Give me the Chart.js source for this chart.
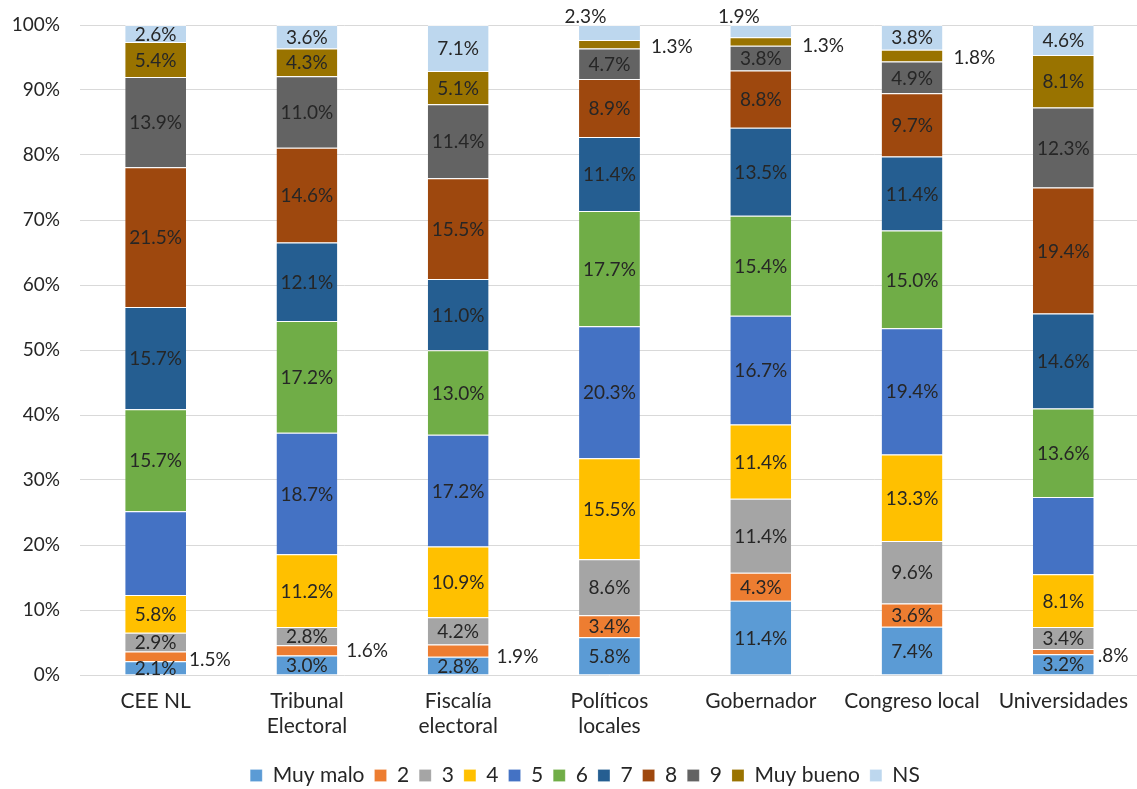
<!DOCTYPE html>
<html><head><meta charset="utf-8">
<script src="https://cdn.jsdelivr.net/npm/chart.js@4.4.1/dist/chart.umd.min.js"></script>
<style>html,body{margin:0;padding:0;overflow:hidden;background:#fff}#wrap{width:1142px;height:789px}</style>
</head><body><div id="wrap"><canvas id="c" width="1142" height="789"></canvas></div>
<script>
// ---- data ----
const categories = [['CEE NL'], ['Tribunal', 'Electoral'], ['Fiscalía', 'electoral'], ['Políticos', 'locales'], ['Gobernador'], ['Congreso local'], ['Universidades']];
const seriesNames = ['Muy malo', '2', '3', '4', '5', '6', '7', '8', '9', 'Muy bueno', 'NS'];
const muyMalo  = [2.1, 3.0, 2.8, 5.8, 11.4, 7.4, 3.2];
const s2       = [1.5, 1.6, 1.9, 3.4, 4.3, 3.6, 0.8];
const s3       = [2.9, 2.8, 4.2, 8.6, 11.4, 9.6, 3.4];
const s4       = [5.8, 11.2, 10.9, 15.5, 11.4, 13.3, 8.1];
const s5       = [12.9, 18.7, 17.2, 20.3, 16.7, 19.4, 11.9];
const s6       = [15.7, 17.2, 13.0, 17.7, 15.4, 15.0, 13.6];
const s7       = [15.7, 12.1, 11.0, 11.4, 13.5, 11.4, 14.6];
const s8       = [21.5, 14.6, 15.5, 8.9, 8.8, 9.7, 19.4];
const s9       = [13.9, 11.0, 11.4, 4.7, 3.8, 4.9, 12.3];
const muyBueno = [5.4, 4.3, 5.1, 1.3, 1.3, 1.8, 8.1];
const ns       = [2.6, 3.6, 7.1, 2.3, 1.9, 3.8, 4.6];
const seriesValues = [muyMalo, s2, s3, s4, s5, s6, s7, s8, s9, muyBueno, ns];
const yTickValues = [0, 10, 20, 30, 40, 50, 60, 70, 80, 90, 100];

// ---- styles ----
const colors = ['#5B9BD5', '#ED7D31', '#A5A5A5', '#FFC000', '#4472C4', '#70AD47', '#255E91', '#9E480E', '#636363', '#997300', '#BDD7EE'];
const FONT = 'Lato, "Open Sans", sans-serif';
const TEXT = '#262626';

// label placement (style, not data)
const labelPlacement = [
  {series: 1, cat: 0, pos: 'right', dx: 3, dy: 2},
  {series: 1, cat: 1, pos: 'right', dx: 9, dy: 0},
  {series: 1, cat: 2, pos: 'right', dx: 8, dy: 5},
  {series: 1, cat: 6, pos: 'right', dx: 4, dy: 3},
  {series: 9, cat: 3, pos: 'right', dx: 11, dy: 2},
  {series: 9, cat: 4, pos: 'right', dx: 11, dy: 3},
  {series: 9, cat: 5, pos: 'right', dx: 11, dy: 1},
  {series: 10, cat: 3, pos: 'above', dx: -24, dy: -8},
  {series: 10, cat: 4, pos: 'above', dx: -22, dy: -8}
];
const hiddenLabels = [{series: 4, cat: 0}, {series: 4, cat: 6}];

// 100% stacked: normalise each column
const totals = categories.map((_, ci) => seriesValues.reduce((a, s) => a + s[ci], 0));
const datasets = seriesNames.map((name, si) => ({
  label: name,
  data: seriesValues[si].map((v, ci) => v / totals[ci] * 100),
  raw: seriesValues[si],
  backgroundColor: colors[si],
  borderColor: 'rgba(255,255,255,0.75)',
  borderWidth: {top: 1, bottom: 0, left: 0, right: 0},
  borderSkipped: false,
  barPercentage: 0.402,
  categoryPercentage: 1.0
}));

function fmt(v) {
  let s = v.toFixed(1);
  if (s.startsWith('0')) s = s.slice(1);
  return s + '%';
}

const labelPlugin = {
  id: 'segLabels',
  afterDatasetsDraw(chart) {
    const ctx = chart.ctx;
    ctx.save();
    ctx.font = '19px ' + FONT;
    ctx.fillStyle = TEXT;
    ctx.textBaseline = 'middle';
    chart.data.datasets.forEach((ds, si) => {
      const meta = chart.getDatasetMeta(si);
      meta.data.forEach((bar, ci) => {
        if (hiddenLabels.some(h => h.series === si && h.cat === ci)) return;
        const txt = fmt(ds.raw[ci]);
        const p = labelPlacement.find(l => l.series === si && l.cat === ci);
        const cy = (bar.y + bar.base) / 2;
        if (!p) {
          ctx.textAlign = 'center';
          ctx.fillText(txt, bar.x, cy + 1);
        } else if (p.pos === 'right') {
          ctx.textAlign = 'left';
          ctx.fillText(txt, bar.x + bar.width / 2 + p.dx, cy + p.dy + 1);
        } else {
          ctx.textAlign = 'center';
          ctx.fillText(txt, bar.x + p.dx, bar.y + p.dy);
        }
      });
    });
    ctx.restore();
  }
};

const legendShift = {
  id: 'legendShift',
  afterLayout(chart) {
    const lg = chart.legend;
    const dx = 585 - (lg.left + lg.right) / 2;
    lg.left += dx; lg.right += dx;
    lg.top += 7; lg.bottom += 7;
  }
};

new Chart(document.getElementById('c'), {
  type: 'bar',
  data: {labels: categories, datasets},
  options: {
    responsive: false,
    animation: false,
    devicePixelRatio: 1,
    layout: {padding: {top: 25, right: 0, bottom: 0, left: 0}},
    scales: {
      x: {
        stacked: true,
        grid: {display: false, drawTicks: false},
        border: {display: false},
        ticks: {color: TEXT, font: {family: FONT, size: 21, lineHeight: '25px'}, padding: 14, maxRotation: 0, autoSkip: false},
        afterFit(s) { s.height = 73; }
      },
      y: {
        stacked: true,
        min: 0, max: 100,
        afterBuildTicks(s) { s.ticks = yTickValues.map(v => ({value: v})); },
        grid: {color: '#D9D9D9', lineWidth: 1, drawTicks: true, tickLength: 20, tickColor: 'rgba(0,0,0,0)'},
        border: {display: false},
        ticks: {color: TEXT, font: {family: FONT, size: 19}, padding: 0, callback: v => v + '%'},
        afterFit(s) { s.width = 80; }
      }
    },
    plugins: {
      legend: {
        position: 'bottom',
        labels: {color: TEXT, font: {family: FONT, size: 21}, boxWidth: 12, boxHeight: 12, padding: 10}
      },
      tooltip: {enabled: false}
    }
  },
  plugins: [labelPlugin, legendShift]
});
</script>
</body></html>
